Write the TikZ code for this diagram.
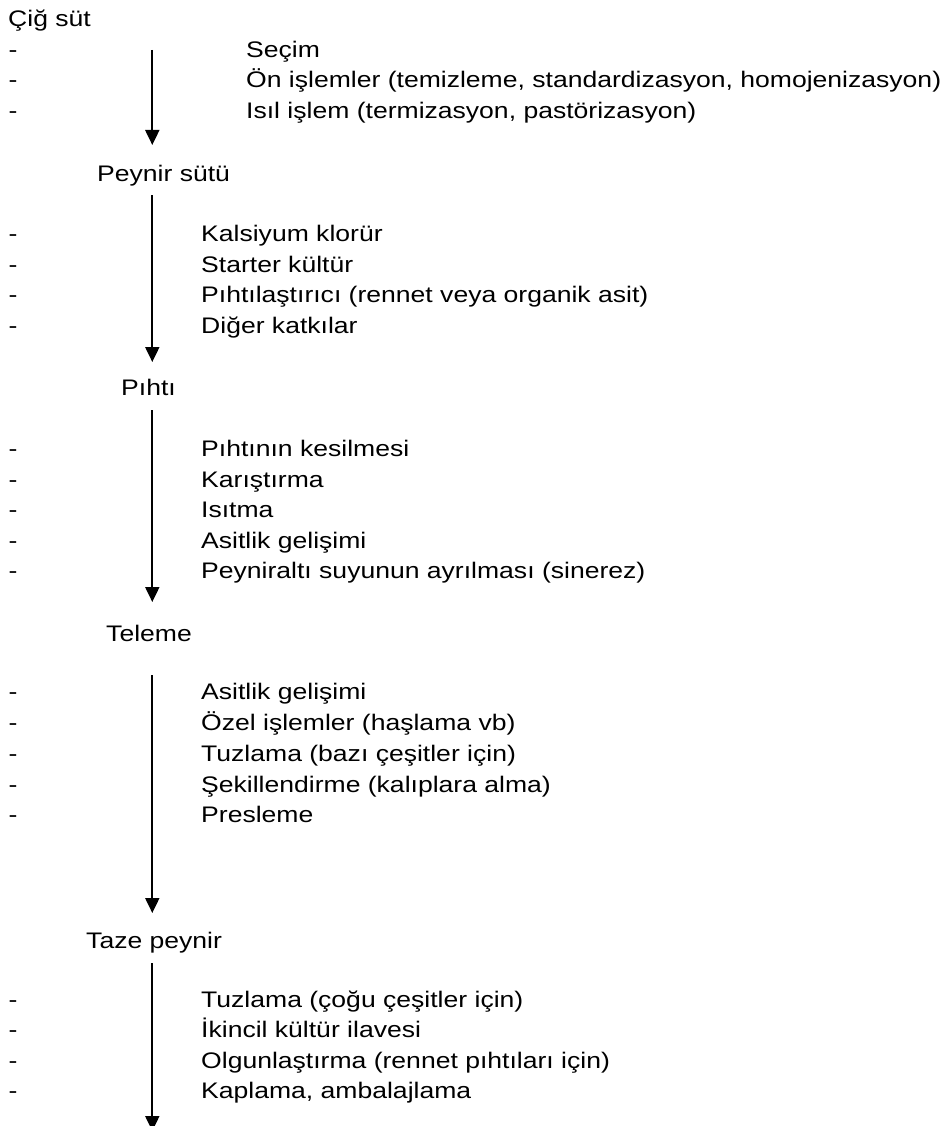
\documentclass[tikz,border=0pt]{standalone}
\usepackage{fontspec}
\setmainfont{Liberation Sans}
\newfontfamily\widefont{Liberation Sans}[FakeStretch=1.18]
\usetikzlibrary{arrows.meta}
\begin{document}
\begin{tikzpicture}[x=1pt,y=-1pt,
  lbl/.style={anchor=base west,inner sep=0pt,font=\widefont\fontsize{22.5}{26}\selectfont},
  flow/.style={line width=2pt,-{Triangle[width=14pt,length=15pt]}}]
\useasboundingbox (0,0) rectangle (946,1126);
\fill[white] (0,0) rectangle (946,1126);
% stage labels
\node[lbl] (s0) at (8,26.7) {Çiğ süt};
\node[lbl] (s1) at (97,182) {Peynir sütü};
\node[lbl] (s2) at (121,395) {Pıhtı};
\node[lbl] (s3) at (106,641) {Teleme};
\node[lbl] (s4) at (86,948) {Taze peynir};
% section 1
\node[lbl] (d11) at (8.5,57.3) {-};
\node[lbl] (d12) at (8.5,88) {-};
\node[lbl] (d13) at (8.5,118.5) {-};
\node[lbl] (t11) at (246,57.3) {Seçim};
\node[lbl] (t12) at (246,88) {Ön işlemler (temizleme, standardizasyon, homojenizasyon)};
\node[lbl] (t13) at (246,118.5) {Isıl işlem (termizasyon, pastörizasyon)};
% section 2
\node[lbl] (d21) at (8.5,241.5) {-};
\node[lbl] (d22) at (8.5,272) {-};
\node[lbl] (d23) at (8.5,302.5) {-};
\node[lbl] (d24) at (8.5,333) {-};
\node[lbl] (t21) at (201,241.5) {Kalsiyum klorür};
\node[lbl] (t22) at (201,272) {Starter kültür};
\node[lbl] (t23) at (201,302.5) {Pıhtılaştırıcı (rennet veya organik asit)};
\node[lbl] (t24) at (201,333) {Diğer katkılar};
% section 3
\node[lbl] (d31) at (8.5,456) {-};
\node[lbl] (d32) at (8.5,487) {-};
\node[lbl] (d33) at (8.5,517.5) {-};
\node[lbl] (d34) at (8.5,548) {-};
\node[lbl] (d35) at (8.5,578.5) {-};
\node[lbl] (t31) at (201,456) {Pıhtının kesilmesi};
\node[lbl] (t32) at (201,487) {Karıştırma};
\node[lbl] (t33) at (201,517.5) {Isıtma};
\node[lbl] (t34) at (201,548) {Asitlik gelişimi};
\node[lbl] (t35) at (201,578.5) {Peyniraltı suyunun ayrılması (sinerez)};
% section 4
\node[lbl] (d41) at (8.5,699.5) {-};
\node[lbl] (d42) at (8.5,730) {-};
\node[lbl] (d43) at (8.5,761) {-};
\node[lbl] (d44) at (8.5,792) {-};
\node[lbl] (d45) at (8.5,822.5) {-};
\node[lbl] (t41) at (201,699.5) {Asitlik gelişimi};
\node[lbl] (t42) at (201,730) {Özel işlemler (haşlama vb)};
\node[lbl] (t43) at (201,761) {Tuzlama (bazı çeşitler için)};
\node[lbl] (t44) at (201,792) {Şekillendirme (kalıplara alma)};
\node[lbl] (t45) at (201,822.5) {Presleme};
% section 5
\node[lbl] (d51) at (8.5,1007) {-};
\node[lbl] (d52) at (8.5,1037.5) {-};
\node[lbl] (d53) at (8.5,1068) {-};
\node[lbl] (d54) at (8.5,1098.5) {-};
\node[lbl] (t51) at (201,1007) {Tuzlama (çoğu çeşitler için)};
\node[lbl] (t52) at (201,1037.5) {İkincil kültür ilavesi};
\node[lbl] (t53) at (201,1068) {Olgunlaştırma (rennet pıhtıları için)};
\node[lbl] (t54) at (201,1098.5) {Kaplama, ambalajlama};
% arrows
\coordinate (a1s) at (152.3,50);   \coordinate (a1e) at (152.3,145);
\coordinate (a2s) at (152.3,195);  \coordinate (a2e) at (152.3,362);
\coordinate (a3s) at (152.3,410);  \coordinate (a3e) at (152.3,602);
\coordinate (a4s) at (152.3,675);  \coordinate (a4e) at (152.3,913);
\coordinate (a5s) at (152.3,963);  \coordinate (a5e) at (152.3,1131);
\draw[flow] (a1s) -- (a1e);
\draw[flow] (a2s) -- (a2e);
\draw[flow] (a3s) -- (a3e);
\draw[flow] (a4s) -- (a4e);
\draw[flow] (a5s) -- (a5e);
\end{tikzpicture}
\end{document}
